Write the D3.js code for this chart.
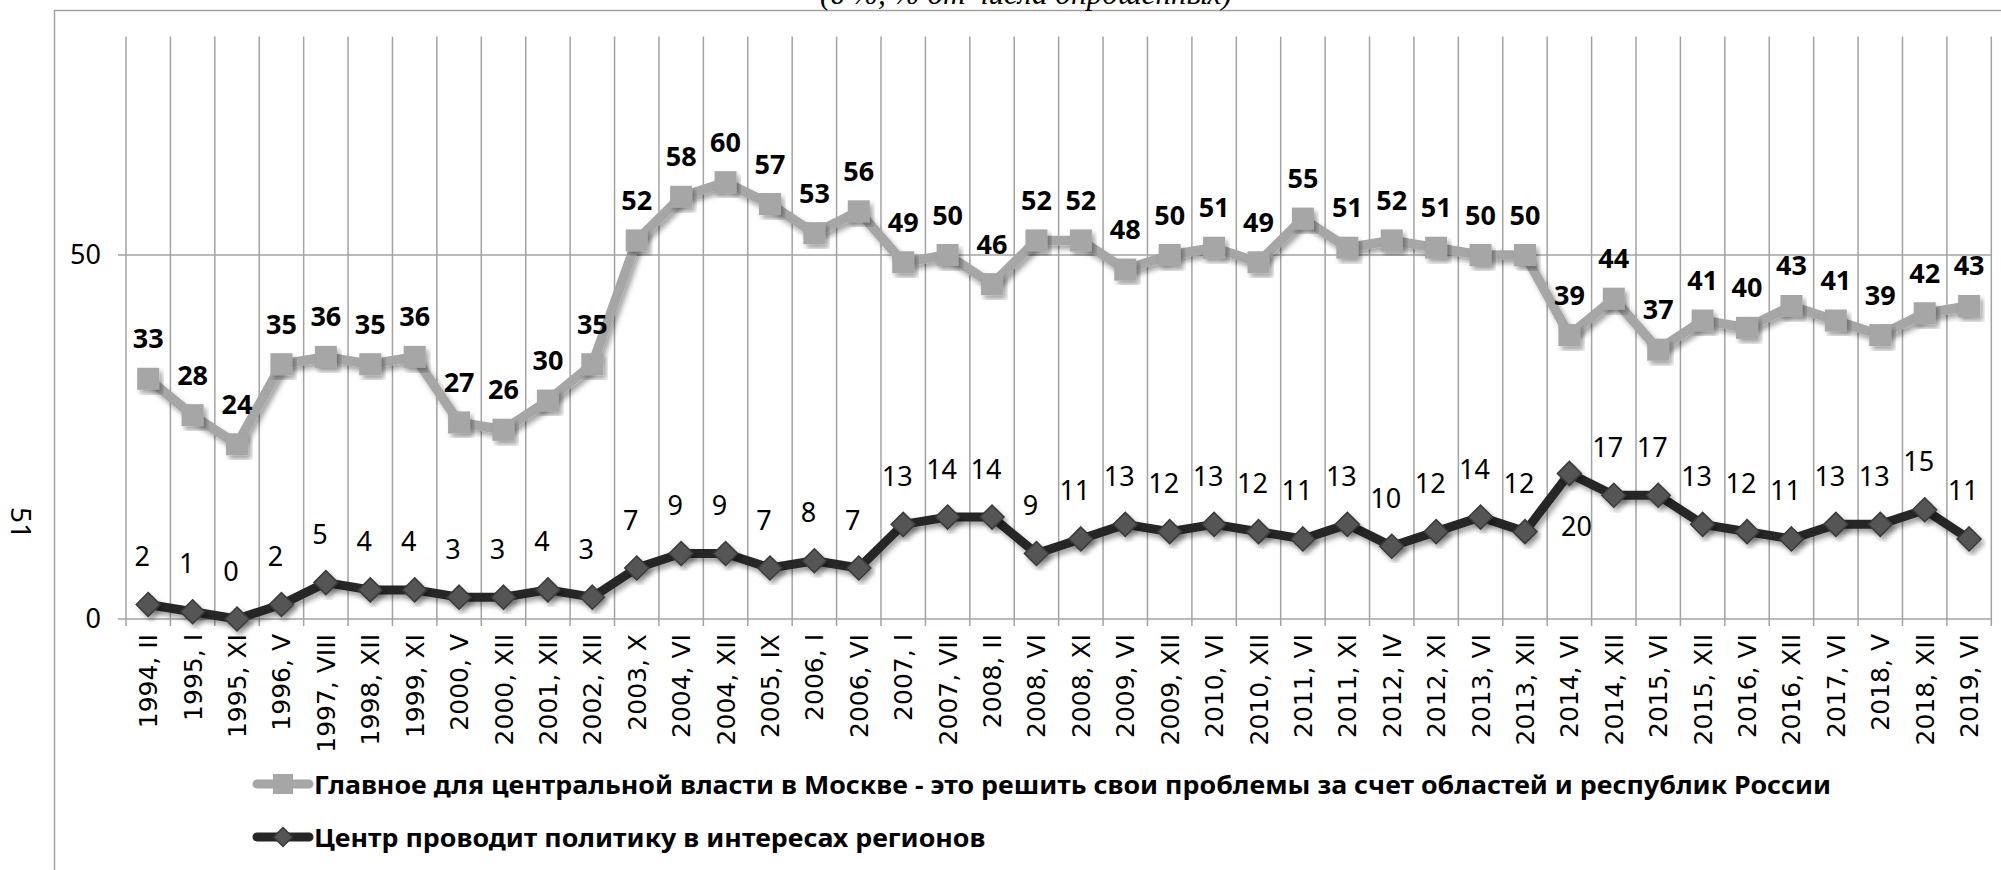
<!DOCTYPE html>
<html>
<head>
<meta charset="utf-8">
<script src="https://cdn.jsdelivr.net/npm/d3@7/dist/d3.min.js"></script>
<style>
  html, body { margin: 0; padding: 0; background: #fff; }
  svg { display: block; }
</style>
</head>
<body>
<svg id="chart" width="2001" height="870"></svg>
<script>
// ---------- data ----------
const categories = [
  "1994, II", "1995, I", "1995, XI", "1996, V", "1997, VIII", "1998, XII", "1999, XI",
  "2000, V", "2000, XII", "2001, XII", "2002, XII", "2003, X", "2004, VI", "2004, XII",
  "2005, IX", "2006, I", "2006, VI", "2007, I", "2007, VII", "2008, II", "2008, VI",
  "2008, XI", "2009, VI", "2009, XII", "2010, VI", "2010, XII", "2011, VI", "2011, XI",
  "2012, IV", "2012, XI", "2013, VI", "2013, XII", "2014, VI", "2014, XII", "2015, VI",
  "2015, XII", "2016, VI", "2016, XII", "2017, VI", "2018, V", "2018, XII", "2019, VI"
];
const seriesMoscow = [
  33, 28, 24, 35, 36, 35, 36, 27, 26, 30, 35, 52, 58, 60, 57, 53, 56, 49, 50, 46, 52,
  52, 48, 50, 51, 49, 55, 51, 52, 51, 50, 50, 39, 44, 37, 41, 40, 43, 41, 39, 42, 43
];
const seriesRegions = [
  2, 1, 0, 2, 5, 4, 4, 3, 3, 4, 3, 7, 9, 9, 7, 8, 7, 13, 14, 14, 9,
  11, 13, 12, 13, 12, 11, 13, 10, 12, 14, 12, 20, 17, 17, 13, 12, 11, 13, 13, 15, 11
];
const yTickValues = [0, 50];
const legendLabels = [
  "Главное для центральной власти в Москве - это решить свои проблемы за счет областей и республик России",
  "Центр проводит политику в интересах регионов"
];
const subtitleText = "(в %, % от числа опрошенных)";
const pageNumber = "51";

// ---------- layout ----------
const svg = d3.select("#chart");
const plot = { left: 126, right: 1991.3, top: 36.6, bottom: 619 };
const x = d3.scaleBand().domain(categories).range([plot.left, plot.right]).padding(0);
const y = d3.scaleLinear().domain([0, 80]).range([plot.bottom, plot.top]);
const cx = d => x(d) + x.bandwidth() / 2;

const gridColor = "#a3a3a3";
const grayColor = "#a6a6a6";
const darkLine = "#262626";
const diamondFill = "#555555";
const diamondStroke = "#3a3a3a";
const labelFont = "'Noto Sans', 'DejaVu Sans', sans-serif";

const defs = svg.append("defs");
const f = defs.append("filter").attr("id", "shadow")
  .attr("x", "-20%").attr("y", "-20%").attr("width", "140%").attr("height", "140%");
f.append("feDropShadow").attr("dx", 3).attr("dy", 4).attr("stdDeviation", 2.5)
  .attr("flood-color", "#000").attr("flood-opacity", 0.35);

// chart-area border (left + top, the rest is cropped)
svg.append("line").attr("x1", 54.5).attr("x2", 54.5).attr("y1", 10).attr("y2", 870)
  .attr("stroke", gridColor).attr("stroke-width", 1.5);
svg.append("line").attr("x1", 54).attr("x2", 2001).attr("y1", 10.5).attr("y2", 10.5)
  .attr("stroke", gridColor).attr("stroke-width", 1.5);

// cropped subtitle at top (as in the source page)
const sub = svg.append("text").attr("x", 1026).attr("y", 4)
  .attr("text-anchor", "middle")
  .style("font-family", "'Liberation Serif', 'DejaVu Serif', serif")
  .style("font-style", "italic").style("font-size", "26px").attr("fill", "#000")
  .text(subtitleText);
(function fit() {
  const w = sub.node().getComputedTextLength();
  sub.style("font-size", (26 * 412 / w).toFixed(2) + "px");
})();

// page number, rotated
svg.append("text").attr("transform", "translate(22,523) rotate(90)")
  .attr("text-anchor", "middle").attr("dominant-baseline", "central")
  .style("font-family", labelFont).style("font-size", "28px").text(pageNumber);

// vertical gridlines (category boundaries) incl. tick marks below axis
const bounds = categories.map(c => x(c)).concat([plot.right]);
svg.append("g").selectAll("line").data(bounds).join("line")
  .attr("x1", d => d).attr("x2", d => d)
  .attr("y1", plot.top).attr("y2", plot.bottom + 7)
  .attr("stroke", gridColor).attr("stroke-width", 1.5);

// horizontal gridlines
svg.append("g").selectAll("line").data(yTickValues).join("line")
  .attr("x1", 118).attr("x2", plot.right)
  .attr("y1", d => y(d)).attr("y2", d => y(d))
  .attr("stroke", gridColor).attr("stroke-width", 1.5);

// y axis labels
const yAxis = svg.append("g").attr("transform", `translate(118,0)`)
  .call(d3.axisLeft(y).tickValues(yTickValues).tickSize(0).tickPadding(17).tickFormat(d3.format("d")));
yAxis.select(".domain").remove();
yAxis.selectAll("text").style("font-family", labelFont).style("font-size", "27px").attr("fill", "#000");

// x axis labels
const xAxis = svg.append("g").attr("transform", `translate(0,${plot.bottom})`)
  .call(d3.axisBottom(x).tickSize(0));
xAxis.select(".domain").remove();
xAxis.selectAll("text")
  .attr("transform", "rotate(-90)")
  .attr("x", -15).attr("y", 0).attr("dy", "0.36em")
  .style("text-anchor", "end")
  .style("font-family", "'DejaVu Sans', Verdana, sans-serif")
  .style("font-size", "25px").attr("fill", "#000");

// ---------- series ----------
const line = d3.line().x((d, i) => cx(categories[i])).y(d => y(d));

// Moscow (gray, squares)
const gMos = svg.append("g");
gMos.append("path").datum(seriesMoscow).attr("d", line)
  .attr("fill", "none").attr("stroke", grayColor).attr("stroke-width", 9.5)
  .attr("stroke-linejoin", "round").attr("filter", "url(#shadow)");
gMos.selectAll("rect").data(seriesMoscow).join("rect")
  .attr("x", (d, i) => cx(categories[i]) - 11).attr("y", d => y(d) - 11)
  .attr("width", 22).attr("height", 22)
  .attr("fill", grayColor).attr("filter", "url(#shadow)");

// Regions (black, diamonds)
const gReg = svg.append("g");
gReg.append("path").datum(seriesRegions).attr("d", line)
  .attr("fill", "none").attr("stroke", darkLine).attr("stroke-width", 9)
  .attr("stroke-linejoin", "round").attr("filter", "url(#shadow)");
const diamond = s => `M0,${-s}L${s},0L0,${s}L${-s},0Z`;
gReg.selectAll("path.mk").data(seriesRegions).join("path").attr("class", "mk")
  .attr("d", diamond(12))
  .attr("transform", (d, i) => `translate(${cx(categories[i])},${y(d)})`)
  .attr("fill", diamondFill).attr("stroke", diamondStroke).attr("stroke-width", 1.5)
  .attr("filter", "url(#shadow)");

// data labels
svg.append("g").selectAll("text").data(seriesMoscow).join("text")
  .attr("x", (d, i) => cx(categories[i])).attr("y", d => y(d) - 41)
  .attr("text-anchor", "middle").attr("dominant-baseline", "central")
  .style("font-family", labelFont).style("font-weight", "bold").style("font-size", "27px")
  .attr("fill", "#000").text(d => d);

const maxReg = d3.max(seriesRegions);
svg.append("g").selectAll("text").data(seriesRegions).join("text")
  .attr("x", (d, i) => cx(categories[i]) + (d === maxReg ? 7 : -6))
  .attr("y", d => y(d) + (d === maxReg ? 52 : -49))
  .attr("text-anchor", "middle").attr("dominant-baseline", "central")
  .style("font-family", labelFont).style("font-size", "27px")
  .attr("fill", "#000").text(d => d);

// ---------- legend ----------
const legendY = [784, 837];
const legend = svg.append("g");
legendLabels.forEach((lab, i) => {
  const gy = legendY[i];
  legend.append("line").attr("x1", 257).attr("x2", 309).attr("y1", gy).attr("y2", gy)
    .attr("stroke", i === 0 ? grayColor : darkLine).attr("stroke-width", 9)
    .attr("stroke-linecap", "round");
  if (i === 0) {
    legend.append("rect").attr("x", 273).attr("y", gy - 10).attr("width", 20).attr("height", 20)
      .attr("fill", grayColor);
  } else {
    legend.append("path").attr("d", diamond(9.5)).attr("transform", `translate(283,${gy})`)
      .attr("fill", diamondFill).attr("stroke", diamondStroke).attr("stroke-width", 1.5);
  }
});
const legTexts = legend.selectAll("text.lg").data(legendLabels).join("text").attr("class", "lg")
  .attr("x", 314).attr("y", (d, i) => legendY[i])
  .attr("dominant-baseline", "central")
  .style("font-family", labelFont).style("font-weight", "bold").style("font-size", "25px")
  .attr("fill", "#000").text(d => d);
(function fitLegend() {
  // condense glyphs (narrow font look) so the first entry spans its original width
  const nodes = legTexts.nodes();
  const ratio = 1517 / nodes[0].getComputedTextLength();
  nodes.forEach(n => {
    const w = n.getComputedTextLength();
    d3.select(n).attr("textLength", (w * ratio).toFixed(1)).attr("lengthAdjust", "spacingAndGlyphs");
  });
})();
</script>
</body>
</html>
